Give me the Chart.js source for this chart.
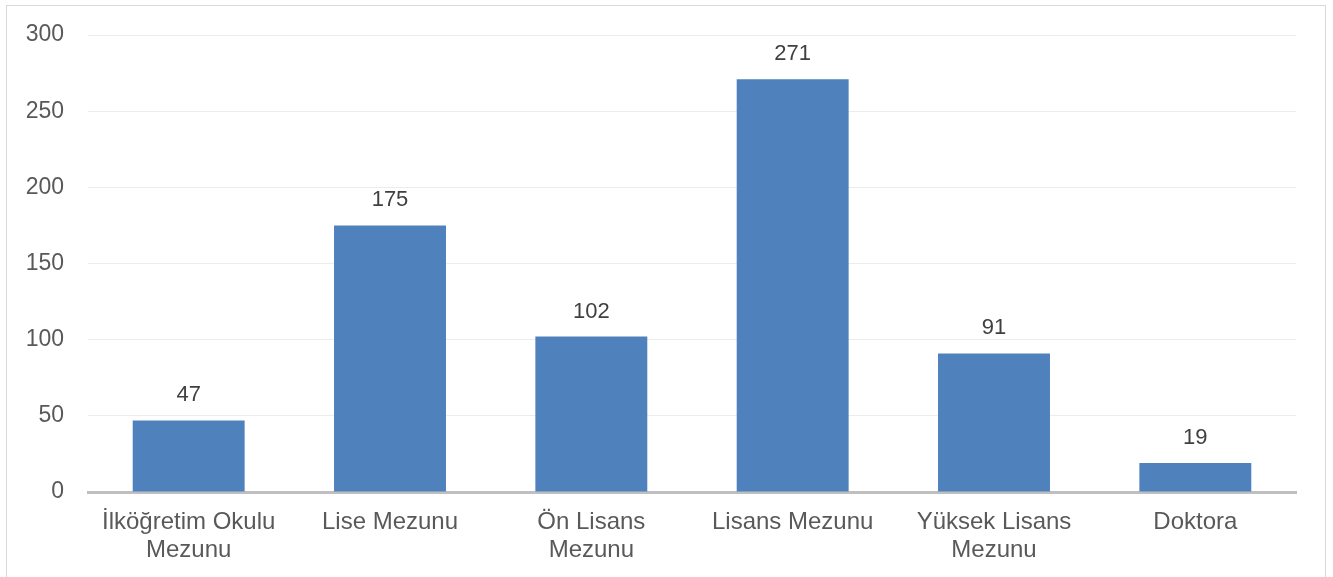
<!DOCTYPE html>
<html><head><meta charset="utf-8">
<script src="https://cdn.jsdelivr.net/npm/chart.js@4/dist/chart.umd.min.js"></script>
<style>
html,body{margin:0;padding:0;background:#fff;}
#wrap{position:absolute;left:0;top:0;width:1333px;height:577px;}
#frame{position:absolute;left:6px;top:5px;width:1320px;height:600px;border:1px solid #d9d9d9;box-sizing:border-box;}
canvas{position:absolute;left:0;top:0;}
</style></head>
<body>
<div id="wrap"><div id="frame"></div><canvas id="c" width="1333" height="577"></canvas></div>
<script>
const categories = [["İlköğretim Okulu","Mezunu"], "Lise Mezunu", ["Ön Lisans","Mezunu"], "Lisans Mezunu", ["Yüksek Lisans","Mezunu"], "Doktora"];
const values = [47, 175, 102, 271, 91, 19];
const yTicks = [0, 50, 100, 150, 200, 250, 300];

const labelPlugin = {
  id: 'valLabels',
  afterDatasetsDraw(chart) {
    const ctx = chart.ctx;
    const meta = chart.getDatasetMeta(0);
    ctx.save();
    ctx.font = '22px "Liberation Sans", Arial, sans-serif';
    ctx.fillStyle = '#404040';
    ctx.textAlign = 'center';
    ctx.textBaseline = 'alphabetic';
    meta.data.forEach((bar, i) => {
      ctx.fillText(String(values[i]), bar.x, bar.y - 19);
    });
    ctx.restore();
  }
};

new Chart(document.getElementById('c'), {
  type: 'bar',
  data: {
    labels: categories,
    datasets: [{
      data: values,
      backgroundColor: '#4f81bd',
      barPercentage: 0.556,
      categoryPercentage: 1.0
    }]
  },
  options: {
    responsive: false,
    animation: false,
    devicePixelRatio: 1,
    layout: { padding: { left: 0, right: 37, top: 35, bottom: 0 } },
    plugins: { legend: { display: false }, tooltip: { enabled: false }, title: { display: false } },
    scales: {
      x: {
        grid: { display: false, drawTicks: false },
        border: { display: true, color: '#bfbfbf', width: 3 },
        ticks: {
          color: '#595959',
          font: { family: '"Liberation Sans", Arial, sans-serif', size: 24, lineHeight: 1.17 },
          padding: 16,
          maxRotation: 0,
          autoSkip: false
        },
        afterFit(scale) { scale.height = 85; scale.paddingLeft = 0; scale.paddingRight = 0; }
      },
      y: {
        min: 0, max: 300,
        afterBuildTicks(scale) { scale.ticks = yTicks.map(v => ({ value: v })); },
        grid: { color: '#ececec', lineWidth: 1, drawTicks: false },
        border: { display: false },
        ticks: {
          color: '#595959',
          font: { family: '"Liberation Sans", Arial, sans-serif', size: 23 },
          padding: 24
        },
        afterFit(scale) { scale.width = 88; scale.paddingTop = 0; scale.paddingBottom = 0; }
      }
    }
  },
  plugins: [labelPlugin]
});
</script>
</body></html>
